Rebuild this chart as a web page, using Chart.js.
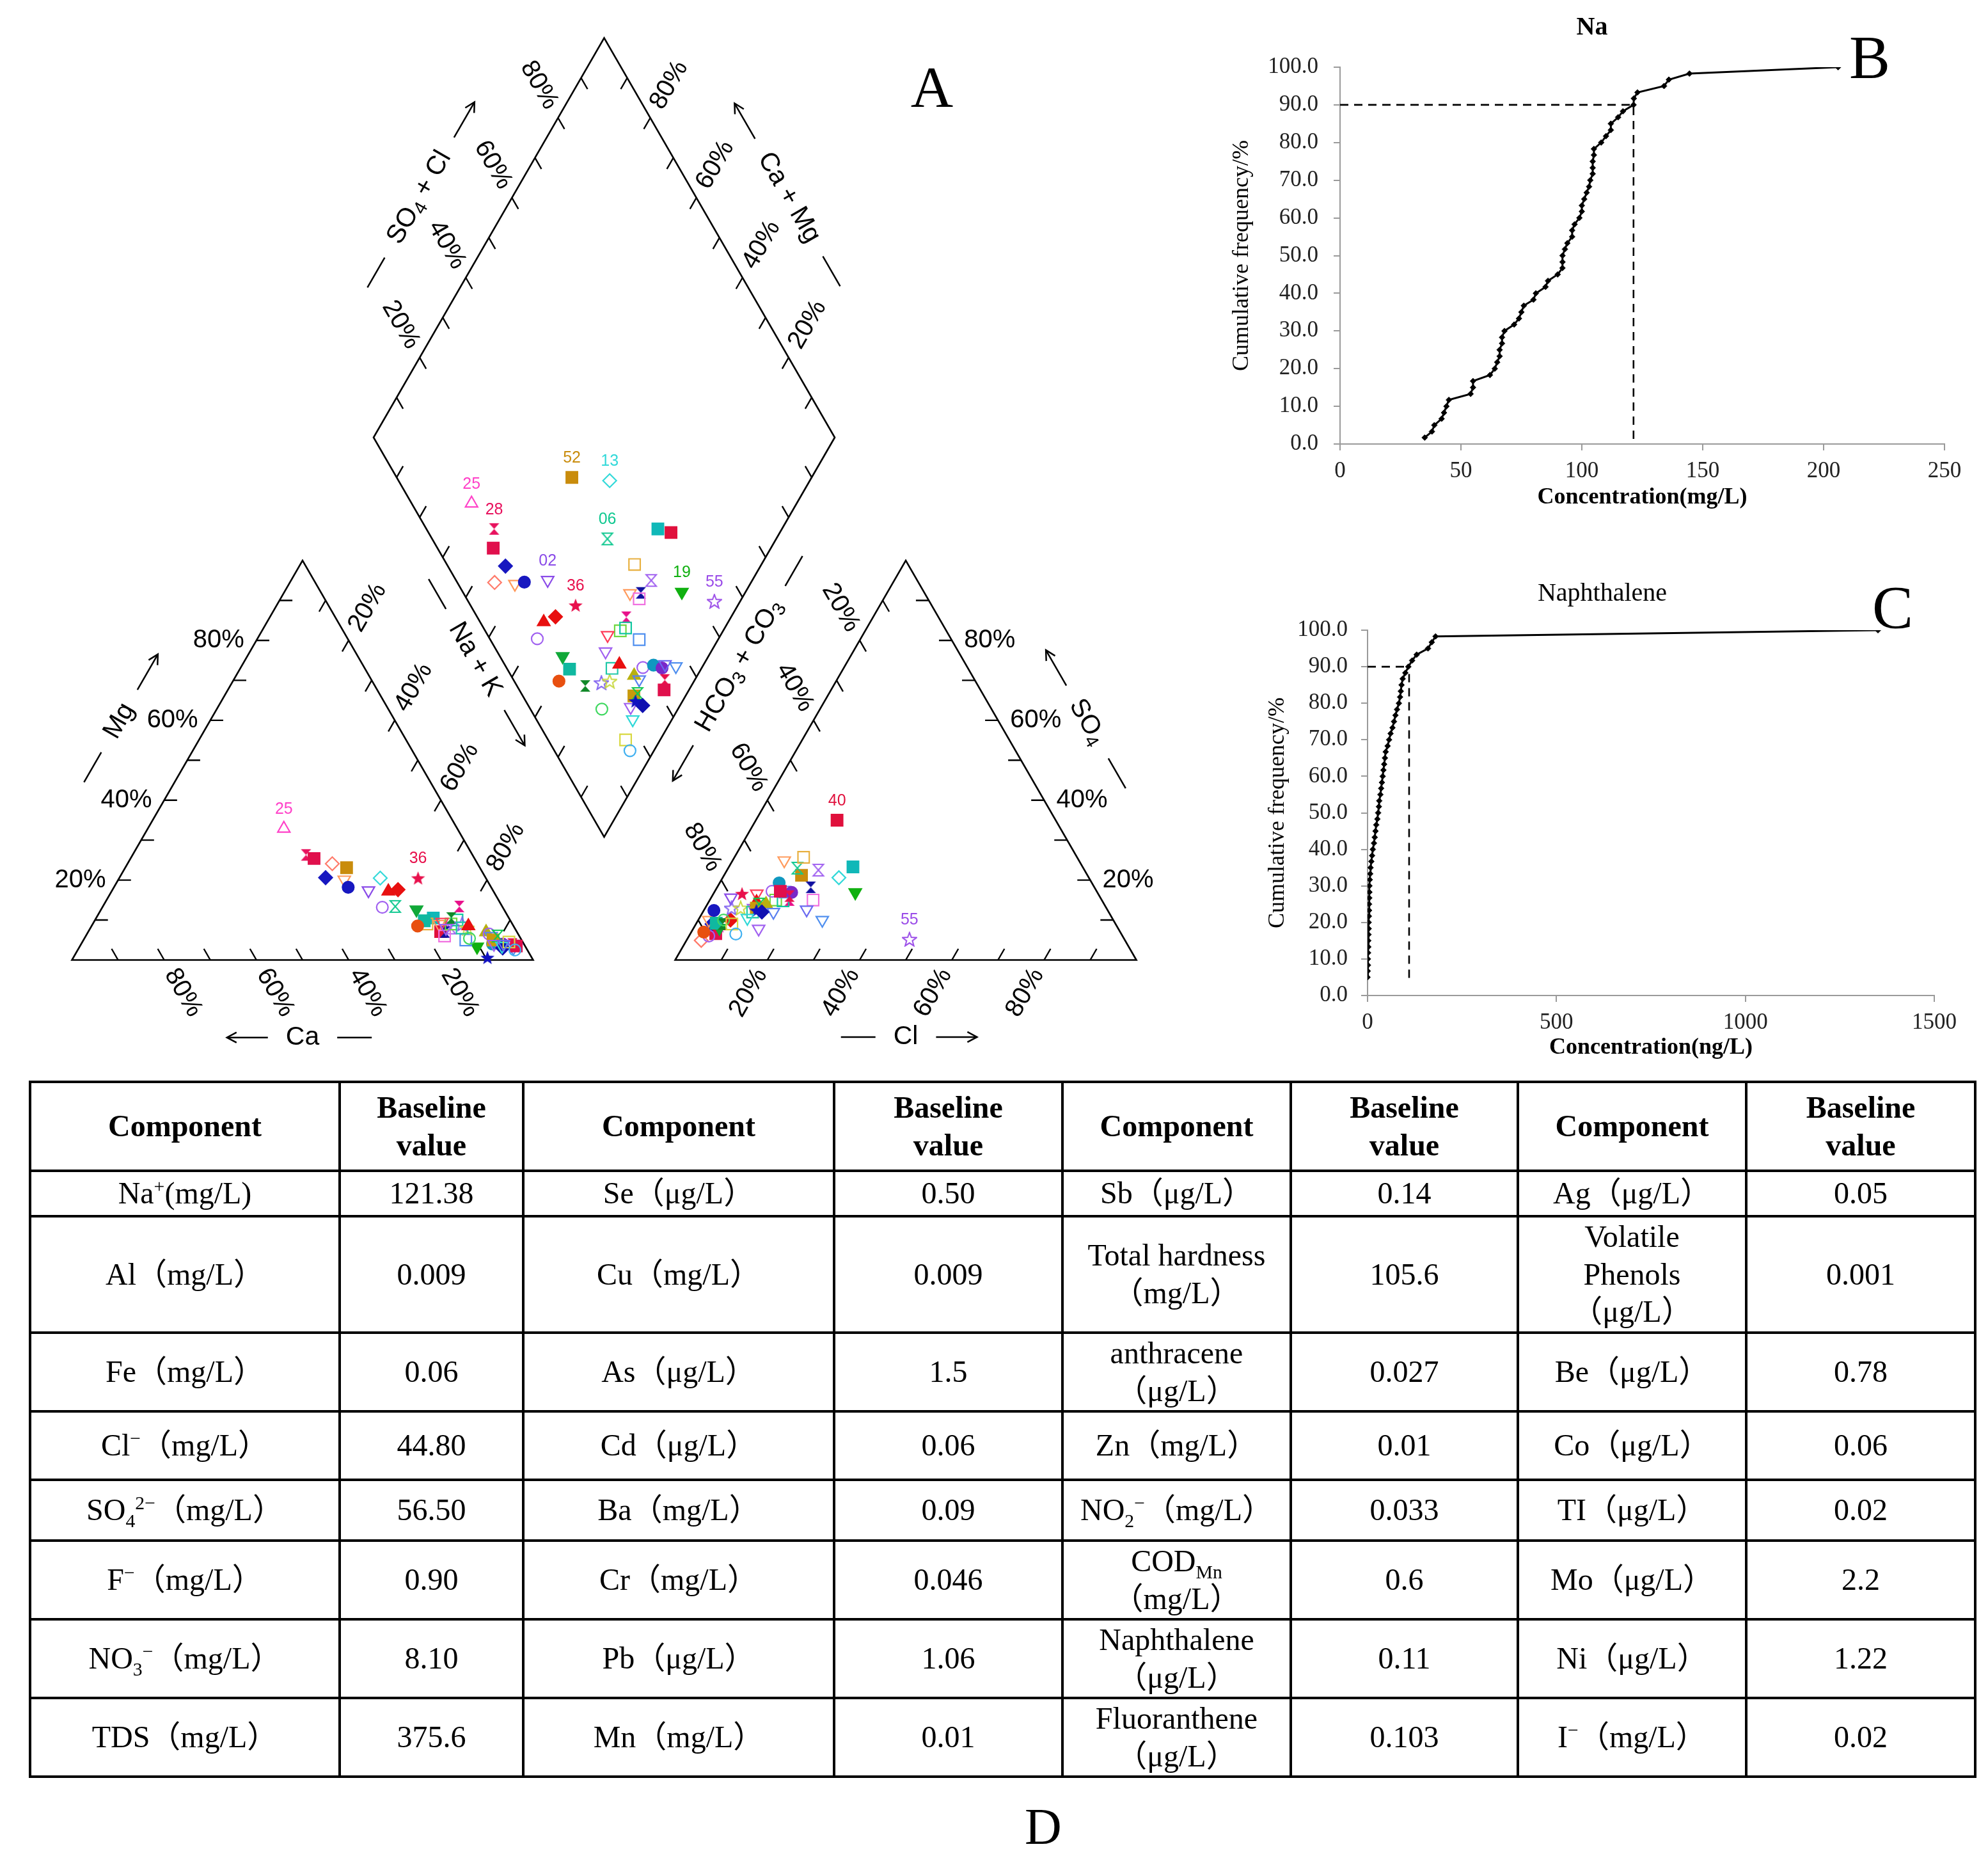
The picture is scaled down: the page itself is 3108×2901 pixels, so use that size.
<!DOCTYPE html>
<html>
<head>
<meta charset="utf-8">
<script src="https://cdn.jsdelivr.net/npm/chart.js@4.4.1/dist/chart.umd.min.js"></script>
<style>
  body { margin: 0; background: #fff; width: 3108px; height: 2901px; position: relative; overflow: hidden; }
  canvas { position: absolute; }
  #piper { left: 0; top: 0; }
  #chartB { left: 1880px; top: 0; }
  #chartC { left: 1880px; top: 860px; }
  .letter { position: absolute; transform: translate(-50%, -50%); font-family: "Liberation Serif", serif; line-height: 1; color: #000; }
  #tbl { position: absolute; left: 45px; top: 1689px; width: 3041px; border-collapse: collapse; table-layout: fixed;
         font-family: "Liberation Serif", "Noto Sans CJK SC", serif; font-size: 48px; line-height: 1.22; color: #000; }
  #tbl td { border: 4px solid #000; text-align: center; vertical-align: middle; padding: 0; }
  #tbl td.head { font-weight: bold; }
  #tbl sup, #tbl sub { font-size: 0.62em; line-height: 0; }
</style>
</head>
<body>
<canvas id="piper" width="1900" height="1700"></canvas>
<canvas id="chartB" width="1228" height="840"></canvas>
<canvas id="chartC" width="1228" height="840"></canvas>
<div class="letter" style="left:1457px;top:136px;font-size:92px">A</div>
<div class="letter" style="left:2923px;top:90px;font-size:96px">B</div>
<div class="letter" style="left:2959px;top:950px;font-size:96px">C</div>
<div class="letter" style="left:1631px;top:2855px;font-size:80px">D</div>
<table id="tbl"></table>

<script>
// ---------- A: Piper diagram data (% meq) ----------
const sampleIds = ['25','28','','','','','','02','52','13','06','','40','','','19','55','','','',
  '36','','','','','','','','','','','','','','','','','','','',
  '','','','','','','','','','','','','','','',''];
const nakPct = [29.5,37.6,39.8,44.7,44.4,49.0,50.8,55.6,48.0,56.6, 63.4,73.1,76.4,72.5,78.1,86.2,94.4,75.1,77.4,77.8,
  64.8,60.0,61.9,60.7,77.3,77.7,78.5,75.5,82.9,77.1, 68.4,71.5,70.7,77.0,80.1,81.7,80.6,81.7,86.3,87.9,
  87.2,89.2,91.4,94.2,93.5,94.6,88.8,89.3,89.5,91.9, 89.8,83.5,91.5,92.5,94.8,91.6];
const mgPct = [32.9,26.3,25.4,20.6,24.1,20.1,18.2,17.4,23.1,20.5, 13.4,10.5,7.1,9,8,3.3,3.6,9,7,6,
  20.5,17.2,17.6,13.2,13.4,9,10,9.5,5,8, 12.6,9.8,8.5,10.5,9,8,8,8.5,7.0,6,
  6.5,4,4,3,4,3.5,5,6,4,3, 0.6,5.4,3.5,4.5,2.5,4];
const so4Pct = [8,9,6.6,9,4.9,10,12.4,15.6,21.2,20.6, 23,23.3,35.0,25.7,22.5,16.9,5.2,24.9,18.2,15.0,
  16.6,8.5,10.0,6.0,15.0,15,14.8,16.6,17,13, 8,9.2,7.0,9,13,13,12,14.5,14,12,
  17.2,19.3,16.9,10.0,16,17.2,13,14,7.8,12, 12.4,10,10.5,9,6.5,12.6];
const clPct = [5.0,5.7,5.5,3.5,3.2,2.3,2.2,4.3,16.8,25.2, 15.0,26.9,17.6,15.0,19.8,30.6,48.2,11.2,20.3,22.4,
  6.2,5.3,7.0,4.3,17.3,14.3,16.0,9.4,15.3,10.5, 5.6,4.3,2.7,5.8,5.7,7.7,10.8,10.4,12.7,15.3,
  12.4,12.9,16.8,26.9,16.8,14.2,11.1,11.2,14.2,12.8, 11.4,5.5,10.4,7.8,9.9,22.2];
const sampleShapes = ['tu','hg','sq','di','di','td','ci','td','sq','di', 'hg','sq','sq','sq','hg','td','st','td','hg','sq',
  'st','tu','di','ci','hg','sq','sq','td','sq','td', 'td','sq','ci','hg','st','st','sq','tu','tu','td',
  'ci','ci','ci','td','hg','sq','sq','hg','td','di', 'st','ci','td','sq','ci','td'];
const sampleColors = ['#ff40c8','#e8125e','#e0104c','#1818c0','#ff7b6b','#ff9a5c','#1818c0','#8a4be8','#c98c0c','#33d9d9',
  '#10c890','#10b8b8','#e0103c','#e8b040','#a060f0','#10b010','#9a4be8','#ff9a5c','#1010a0','#f070e0',
  '#e8104c','#e81010','#e81010','#a060f0','#e8108a','#70d840','#10c8a0','#ff3c5a','#4f8fef','#a060f0',
  '#10a838','#10b8a0','#e85010','#108828','#7f60f0','#c8d840','#20c8a8','#e81010','#b8b010','#5a80f0',
  '#a060f0','#1098c0','#7a28c8','#4f8fef','#e8104c','#e0104c','#c99a0c','#10c850','#a060f0','#1010b0',
  '#1010c0','#40d860','#30d8d8','#d8d840','#40b0f0','#6a6af0'];
const sampleFilled = [0,1,1,1,0,0,1,0,1,0, 0,1,1,0,0,1,0,0,1,0, 1,1,1,0,1,0,0,0,0,0,
  1,1,1,1,0,0,0,1,1,0, 0,1,1,0,1,1,1,0,0,1, 1,0,0,0,0,0];
const labelsCation = ['25','36'];
const labelsAnion = ['40','55'];
const labelsDiamond = ['25','28','02','36','52','13','06','19','55'];
const pctTicks = [20, 40, 60, 80];

// ---------- B / C: cumulative frequency ----------
const naConc = [35,38,39,42,43,44,45,54,55,55,62,64,65,66,66,67,67,68,72,74,75,76,80,81,85,86,90,92,92,92,
  93,94,96,96,97,99,100,100,101,102,103,103.5,104.5,104.5,104.5,105,105,108,110,112,112,115,117,121.4,121.5,123,134,136,144.5,206];
const naFreq = [1.7,3.3,5.0,6.7,8.3,10.0,11.7,13.3,15.0,16.7,18.3,20.0,21.7,23.3,25.0,26.7,28.3,30.0,31.7,33.3,
  35.0,36.7,38.3,40.0,41.7,43.3,45.0,46.7,48.3,50.0,51.7,53.3,55.0,56.7,58.3,60.0,61.7,63.3,65.0,66.7,
  68.3,70.0,71.7,73.3,75.0,76.7,78.3,80.0,81.7,83.3,85.0,86.7,88.3,90.0,91.7,93.3,95.0,96.7,98.3,100.0];
const naBaseline = 121.38;
const naphConc = [0,0.5,1,1,1.5,2,2,2.5,3,3,3.5,4,4,4.5,5,5,6,7,8,10,12,14,17,19,21,23,26,28,30,31,
  34,36,38,40,42,44,46,48,53,57,61,66,70,74,78,83,86,88,90,93,100,108,118,130,160,170,180,1351];
const naphFreq = [5.0,6.7,8.3,10.0,11.7,13.3,15.0,16.7,18.3,20.0,21.7,23.3,25.0,26.7,28.3,30.0,31.7,33.3,35.0,36.7,
  38.3,40.0,41.7,43.3,45.0,46.7,48.3,50.0,51.7,53.3,55.0,56.7,58.3,60.0,61.7,63.3,65.0,66.7,68.3,70.0,
  71.7,73.3,75.0,76.7,78.3,80.0,81.7,83.3,85.0,86.7,88.3,90.0,91.7,93.3,95.0,96.7,98.3,100.0];
const naphBaseline = 110;

// ---------- D: baseline table ----------
const compA = ['Na<sup>+</sup>(mg/L)','Al（mg/L）','Fe（mg/L）','Cl<sup>−</sup>（mg/L）','SO<sub>4</sub><sup>2−</sup>（mg/L）','F<sup>−</sup>（mg/L）','NO<sub>3</sub><sup>−</sup>（mg/L）','TDS（mg/L）'];
const valA = ['121.38','0.009','0.06','44.80','56.50','0.90','8.10','375.6'];
const compB = ['Se（μg/L）','Cu（mg/L）','As（μg/L）','Cd（μg/L）','Ba（mg/L）','Cr（mg/L）','Pb（μg/L）','Mn（mg/L）'];
const valB = ['0.50','0.009','1.5','0.06','0.09','0.046','1.06','0.01'];
const compC = ['Sb（μg/L）','Total hardness<br>（mg/L）','anthracene<br>（μg/L）','Zn（mg/L）','NO<sub>2</sub><sup>−</sup>（mg/L）','COD<sub>Mn</sub><br>（mg/L）','Naphthalene<br>（μg/L）','Fluoranthene<br>（μg/L）'];
const valC = ['0.14','105.6','0.027','0.01','0.033','0.6','0.11','0.103'];
const compD = ['Ag（μg/L）','Volatile<br>Phenols<br>（μg/L）','Be（μg/L）','Co（μg/L）','TI（μg/L）','Mo（μg/L）','Ni（μg/L）','I<sup>−</sup>（mg/L）'];
const valD = ['0.05','0.001','0.78','0.06','0.02','2.2','1.22','0.02'];

// ================= Piper geometry =================
const H = Math.sqrt(3) / 2;
const GAP = 30.8;            // gap between the two triangles (percent units)
const TICK = 2.8;
const LABEL_OFF = 8.2;

function catXY(nak, mg) { return { x: nak + mg / 2, y: mg * H }; }
function anXY(cl, so4) { return { x: 100 + GAP + cl + so4 / 2, y: so4 * H }; }
function diaXY(nak, clso4) {
  const a = nak, b = 100 + GAP + clso4;
  return { x: (a + b) / 2, y: (b - a) * H };
}
function along(p, q, t) { return { x: p.x + (q.x - p.x) * t, y: p.y + (q.y - p.y) * t }; }
function shift(p, d, k) { return { x: p.x + d[0] * k, y: p.y + d[1] * k }; }

const catBL = catXY(0, 0), catBR = catXY(100, 0), catTop = catXY(0, 100);
const anBL = anXY(0, 0), anBR = anXY(100, 0), anTop = anXY(0, 100);
const diaB = diaXY(100, 0), diaL = diaXY(0, 0), diaT = diaXY(0, 100), diaR = diaXY(100, 100);
const BREAK = { x: null, y: null };

const edges = [
  { p: catBL, q: catTop, d: [1, 0], lab: true },
  { p: catTop, q: catBR, d: [-0.5, -H], lab: true },
  { p: catBL, q: catBR, d: [-0.5, H], lab: true, rev: true },
  { p: anTop, q: anBL, d: [0.5, -H], lab: true },
  { p: anBR, q: anTop, d: [-1, 0], lab: true },
  { p: anBL, q: anBR, d: [0.5, H], lab: true },
  { p: diaL, q: diaT, d: [0.5, -H], lab: true },
  { p: diaR, q: diaT, d: [-0.5, -H], lab: true },
  { p: diaB, q: diaL, d: [0.5, H], lab: false },
  { p: diaB, q: diaR, d: [-0.5, H], lab: false }
];

const outline = [catBL, catBR, catTop, catBL, catBR, BREAK,
  anBL, anBR, anTop, anBL, anBR, BREAK,
  diaB, diaR, diaT, diaL, diaB, diaR];
const tickData = [];
edges.forEach(e => {
  for (let k = 1; k <= 9; k++) {
    const b = along(e.p, e.q, k / 10);
    tickData.push(b, shift(b, e.d, TICK), BREAK);
  }
});

function makeMarker(shape, color, filled) {
  const c = document.createElement('canvas');
  c.width = 24; c.height = 24;
  const g = c.getContext('2d');
  g.strokeStyle = color; g.fillStyle = color; g.lineWidth = 2;
  g.beginPath();
  if (shape === 'st') {
    for (let i = 0; i < 10; i++) {
      const r = i % 2 ? 4.8 : 11.5, a = -Math.PI / 2 + i * Math.PI / 5;
      const px = 12 + r * Math.cos(a), py = 13 + r * Math.sin(a);
      if (i) g.lineTo(px, py); else g.moveTo(px, py);
    }
    g.closePath();
  } else {
    g.moveTo(4, 3); g.lineTo(20, 3); g.lineTo(12, 12); g.lineTo(20, 21); g.lineTo(4, 21); g.lineTo(12, 12); g.closePath();
  }
  if (filled) g.fill(); else g.stroke();
  return c;
}

const sampleSets = sampleIds.map((id, i) => {
  const shape = sampleShapes[i], col = sampleColors[i], fill = !!sampleFilled[i];
  let style = 'circle', radius = 9, rot = 0;
  if (shape === 'tu') { style = 'triangle'; radius = 11; }
  else if (shape === 'td') { style = 'triangle'; radius = 11; rot = 180; }
  else if (shape === 'sq') { style = 'rect'; radius = 12.5; }
  else if (shape === 'di') { style = 'rectRot'; radius = 10.5; }
  else if (shape === 'st' || shape === 'hg') { style = makeMarker(shape, col, fill); }
  return {
    data: [catXY(nakPct[i], mgPct[i]), anXY(clPct[i], so4Pct[i]), diaXY(nakPct[i], clPct[i] + so4Pct[i])],
    pointStyle: style, pointRadius: radius, pointRotation: rot,
    borderColor: col, backgroundColor: fill ? col : 'rgba(0,0,0,0)', borderWidth: 2.2
  };
}).reverse();

const TITLE_FONT = '41px "Liberation Sans", Arial, sans-serif';
const SUB_FONT = '29px "Liberation Sans", Arial, sans-serif';
const axisTitles = [
  { at: shift(along(catBL, catTop, 0.5), [-H, 0.5], 17), ang: -60, runs: [['Mg', 0]], arrowFirst: false },
  { at: shift(along(catBL, catBR, 0.5), [0, -1], 16.8), ang: 0, runs: [['Ca', 0]], arrowFirst: true },
  { at: shift(shift(along(diaB, diaL, 0.5), [-H, -0.5], 5), [0.5, -H], 2.7), ang: 60, runs: [['Na + K', 0]], arrowFirst: false },
  { at: shift(along(diaL, diaT, 0.5), [-H, 0.5], 17.4), ang: -60, runs: [['SO', 0], ['4', 1], [' + Cl', 0]], arrowFirst: false },
  { at: shift(along(diaR, diaT, 0.5), [H, 0.5], 17.4), ang: 60, runs: [['Ca + Mg', 0]], arrowFirst: true },
  { at: shift(shift(along(diaB, diaR, 0.5), [H, -0.5], 6.8), [0.5, H], -3.2), ang: -60, runs: [['HCO', 0], ['3', 1], [' + CO', 0], ['3', 1]], arrowFirst: true },
  { at: shift(along(anBR, anTop, 0.5), [H, 0.5], 16.6), ang: 60, runs: [['SO', 0], ['4', 1]], arrowFirst: true },
  { at: shift(along(anBL, anBR, 0.5), [0, -1], 16.7), ang: 0, runs: [['Cl', 0]], arrowFirst: false }
];

function runsWidth(ctx, runs) {
  let w = 0;
  runs.forEach(([t, sub]) => { ctx.font = sub ? SUB_FONT : TITLE_FONT; w += ctx.measureText(t).width; });
  return w;
}
function hline(ctx, a, b) { ctx.beginPath(); ctx.moveTo(a, 0); ctx.lineTo(b, 0); ctx.stroke(); }
function arrowLine(ctx, a, b) {
  hline(ctx, a, b);
  const s = Math.sign(b - a);
  ctx.beginPath(); ctx.moveTo(b - s * 15, -8); ctx.lineTo(b, 0); ctx.lineTo(b - s * 15, 8); ctx.stroke();
}

const piperText = {
  id: 'piperText',
  afterDatasetsDraw(chart) {
    const { ctx, scales: { x, y } } = chart;
    const px = p => [x.getPixelForValue(p.x), y.getPixelForValue(p.y)];
    ctx.save();
    ctx.fillStyle = '#000'; ctx.strokeStyle = '#000'; ctx.lineWidth = 2.5;
    ctx.textBaseline = 'middle';
    // percent labels
    ctx.font = '40px "Liberation Sans", Arial, sans-serif';
    ctx.textAlign = 'center';
    edges.filter(e => e.lab).forEach(e => {
      let ang = Math.atan2(e.d[1], -e.d[0]) * 180 / Math.PI;
      if (ang > 90) ang -= 180;
      if (ang <= -90) ang += 180;
      pctTicks.forEach(v => {
        const t = e.rev ? 1 - v / 100 : v / 100;
        const c = px(shift(along(e.p, e.q, t), e.d, -LABEL_OFF));
        ctx.save(); ctx.translate(c[0], c[1]); ctx.rotate(ang * Math.PI / 180);
        ctx.fillText(v + '%', 0, 0);
        ctx.restore();
      });
    });
    // axis titles with dash and arrow
    ctx.textAlign = 'left';
    axisTitles.forEach(tt => {
      const c = px(tt.at);
      ctx.save(); ctx.translate(c[0], c[1]); ctx.rotate(tt.ang * Math.PI / 180);
      const w = runsWidth(ctx, tt.runs);
      let xx = -w / 2;
      tt.runs.forEach(([t, sub]) => {
        ctx.font = sub ? SUB_FONT : TITLE_FONT;
        ctx.fillText(t, xx, sub ? 11 : 0);
        xx += ctx.measureText(t).width;
      });
      const gap = 28, dash = 54, arr = 64;
      if (tt.arrowFirst) {
        arrowLine(ctx, -w / 2 - gap, -w / 2 - gap - arr);
        hline(ctx, w / 2 + gap, w / 2 + gap + dash);
      } else {
        hline(ctx, -w / 2 - gap - dash, -w / 2 - gap);
        arrowLine(ctx, w / 2 + gap, w / 2 + gap + arr);
      }
      ctx.restore();
    });
    // sample id labels
    ctx.font = '25px "Liberation Sans", Arial, sans-serif';
    ctx.textAlign = 'center';
    const put = (ids, pos) => ids.forEach(id => {
      const i = sampleIds.indexOf(id);
      const p = [catXY(nakPct[i], mgPct[i]), anXY(clPct[i], so4Pct[i]), diaXY(nakPct[i], clPct[i] + so4Pct[i])][pos];
      const c = px(p);
      ctx.fillStyle = sampleColors[i];
      ctx.fillText(id, c[0], c[1] - 30);
    });
    put(labelsCation, 0); put(labelsAnion, 1); put(labelsDiamond, 2);
    ctx.restore();
  }
};

new Chart(document.getElementById('piper'), {
  type: 'scatter',
  data: {
    datasets: sampleSets.concat([
      { data: outline, showLine: true, spanGaps: false, borderColor: '#000', borderWidth: 2.6, pointRadius: 0, borderJoinStyle: 'miter' },
      { data: tickData, showLine: true, spanGaps: false, borderColor: '#000', borderWidth: 2.4, pointRadius: 0 }
    ])
  },
  options: {
    responsive: false, animation: false, events: [],
    layout: { padding: 0, autoPadding: false },
    plugins: { legend: { display: false }, tooltip: { enabled: false } },
    scales: {
      x: { type: 'linear', min: -15.60, max: 247.92, display: false },
      y: { type: 'linear', min: -27.67, max: 208.11, display: false }
    }
  },
  plugins: [piperText]
});

// ================= B and C =================
const SERIF = '"Liberation Serif", "Times New Roman", serif';
const panelTitle = {
  id: 'panelTitle',
  afterDraw(chart, args, opts) {
    const ctx = chart.ctx;
    ctx.save();
    ctx.fillStyle = '#000';
    ctx.font = opts.weight + ' 40px ' + SERIF;
    ctx.textAlign = 'center';
    ctx.textBaseline = 'middle';
    ctx.fillText(opts.text, opts.x, opts.y);
    ctx.restore();
  }
};

function cumChart(el, conc, freq, base, o) {
  return new Chart(el, {
    type: 'scatter',
    data: {
      datasets: [
        { data: conc.map((c, i) => ({ x: c, y: freq[i] })), showLine: true, borderColor: '#000', backgroundColor: '#000',
          borderWidth: 3, pointStyle: 'rectRot', pointRadius: 4.5, pointBorderWidth: 1 },
        { data: o.dash(base), showLine: true, spanGaps: false, borderColor: '#000', borderWidth: 2.6, borderDash: [13, 9], pointRadius: 0 }
      ]
    },
    options: {
      responsive: false, animation: false, events: [],
      layout: { padding: { top: o.padTop, right: o.padRight, bottom: 0, left: 0 }, autoPadding: false },
      plugins: {
        legend: { display: false }, tooltip: { enabled: false },
        panelTitle: { text: o.title, weight: o.titleWeight, x: o.titleX, y: o.titleY }
      },
      scales: {
        x: {
          type: 'linear', min: 0, max: o.xMax,
          ticks: { stepSize: o.xStep, color: '#222', font: { family: SERIF, size: 35 }, padding: 12, maxRotation: 0,
                   callback: v => String(v) },
          grid: { drawOnChartArea: false, drawTicks: true, tickLength: 10, color: '#9a9a9a', lineWidth: 2 },
          border: { color: '#9a9a9a', width: 2 },
          title: { display: true, text: o.xTitle, color: '#000', font: { family: SERIF, size: 36, weight: 'bold' }, padding: { top: 0, bottom: 41 } },
          afterFit(s) { s.height = o.xAxisH; }
        },
        y: {
          min: 0, max: 100,
          ticks: { stepSize: 10, color: '#222', font: { family: SERIF, size: 35 }, padding: o.yPad, callback: v => v.toFixed(1) },
          grid: { drawOnChartArea: false, drawTicks: true, tickLength: 10, color: '#9a9a9a', lineWidth: 2 },
          border: { color: '#9a9a9a', width: 2 },
          title: { display: true, text: 'Cumulative frequency/%', color: '#000', font: { family: SERIF, size: 36 }, padding: { top: o.yTitlePad, bottom: 0 } },
          afterFit(s) { s.width = o.yAxisW; }
        }
      }
    },
    plugins: [panelTitle]
  });
}

cumChart(document.getElementById('chartB'), naConc, naFreq, naBaseline, {
  title: 'Na', titleWeight: 'bold', titleX: 609, titleY: 44, padTop: 105, padRight: 68,
  xMax: 250, xStep: 50, xTitle: 'Concentration(mg/L)', xAxisH: 146, yAxisW: 215, yPad: 24, yTitlePad: 40,
  dash: b => [{ x: 0, y: 90 }, { x: b, y: 90 }, { x: b, y: 0 }]
});
cumChart(document.getElementById('chartC'), naphConc, naphFreq, naphBaseline, {
  title: 'Naphthalene', titleWeight: 'normal', titleX: 625, titleY: 68, padTop: 125, padRight: 84,
  xMax: 1500, xStep: 500, xTitle: 'Concentration(ng/L)', xAxisH: 144, yAxisW: 258, yPad: 21, yTitlePad: 96,
  dash: b => [{ x: 0, y: 90 }, { x: b, y: 90 }, BREAK, { x: b, y: 88 }, { x: b, y: 3.5 }]
});

// ================= D: table =================
const colWidths = [484, 287, 486, 357, 357, 355, 357, 358];
const rowHeights = [139, 71, 182, 123, 107, 95, 123, 123, 123];
const tbl = document.getElementById('tbl');
const cg = document.createElement('colgroup');
colWidths.forEach(w => { const c = document.createElement('col'); c.style.width = w + 'px'; cg.appendChild(c); });
tbl.appendChild(cg);
let html = '<tr style="height:' + rowHeights[0] + 'px">';
for (let k = 0; k < 4; k++) html += '<td class="head">Component</td><td class="head">Baseline<br>value</td>';
html += '</tr>';
for (let r = 0; r < compA.length; r++) {
  html += '<tr style="height:' + rowHeights[r + 1] + 'px">' +
    '<td>' + compA[r] + '</td><td>' + valA[r] + '</td>' +
    '<td>' + compB[r] + '</td><td>' + valB[r] + '</td>' +
    '<td>' + compC[r] + '</td><td>' + valC[r] + '</td>' +
    '<td>' + compD[r] + '</td><td>' + valD[r] + '</td></tr>';
}
tbl.insertAdjacentHTML('beforeend', html);
</script>
</body>
</html>
